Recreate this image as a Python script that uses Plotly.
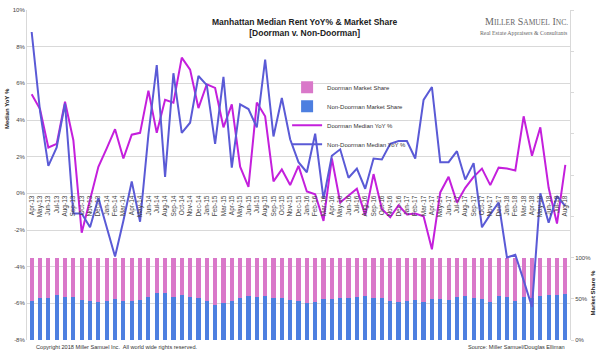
import pandas as pd
import plotly.graph_objects as go

months = list(pd.date_range("2013-04-01", periods=65, freq="MS").strftime("%b-%y"))

doorman_yoy = [5.4, 4.6, 2.5, 2.7, 5.0, 2.9, -2.15, -0.4, 1.45,
               2.45, 3.5, 1.9, 3.2, 3.3, 5.6, 3.3, 5.1, 4.95, 7.4, 6.75, 4.65,
               5.95, 5.75, 3.6, 4.85, 1.45, 0.35, 4.95, 4.2, 0.65, 1.3, 0.45, 1.5,
               0.1, -0.05, -1.5, 1.9, -0.5, -0.15, 0.25, -1.2, 1.05, -0.85, -1.3, -0.65,
               -1.15, -1.1, -1.25, -3.05, 0.05, 0.9, -0.5, 0.3, 0.9, 1.35, 0.45, 1.4,
               1.35, 1.25, 4.2, 2.05, 3.6, 0.3, -1.65, 1.55]

non_doorman_yoy = [8.8, 4.5, 1.5, 2.5, 4.9, -1.1, -1.1, -1.85, -0.25,
                   -1.85, -3.45, -1.5, 0.65, -1.55, 3.2, 7.0, 0.9, 6.55, 3.3, 3.85, 6.4,
                   5.9, 2.7, 6.35, 1.4, 4.85, 4.6, 3.6, 7.3, 3.1, 5.2, 2.95, 1.7,
                   1.15, 3.25, -0.3, 2.05, 2.4, 0.85, 1.35, 0.25, 1.9, 1.85, 2.7, 2.85,
                   2.85, 1.9, 5.1, 5.8, 1.7, 1.7, 2.3, 0.75, 1.65, -1.85, -1.15, -0.5,
                   -3.5, -3.35, -4.75, -6.2, 0.0, -1.6, -0.15, -0.7]

non_doorman_share = [47.8, 51, 51, 54.6, 51.8, 51.8, 48.6, 47.8, 46.6,
                     47.8, 49.8, 47.8, 47.8, 48.6, 52.6, 57, 57, 51.8, 55, 51.8, 50.6,
                     47.8, 43, 44.6, 47, 51, 53.8, 52.6, 53, 50.6, 50.6, 48.6, 47.8,
                     45, 45.8, 49.8, 49.8, 51.4, 51.4, 52.6, 53.8, 51.4, 50.6, 47.8, 46.6,
                     47.8, 49, 45.8, 49.8, 49.8, 49, 51.8, 53.4, 51, 49.8, 46.6, 53.4,
                     52.6, 47.8, 51.8, 51, 53.8, 54.6, 55, 55.8]
doorman_share = [round(100 - v, 1) for v in non_doorman_share]

yoy_ticks = [-8, -6, -4, -2, 0, 2, 4, 6, 8, 10]
yoy_labels = [f"{v}%" for v in yoy_ticks]
share_ticks = [0, 50, 100, 150, 200, 250, 300, 350, 400]
share_labels = ["0%", "50%", "100%", "", "", "", "", "", ""]

FONT = "Liberation Sans"
C_DS = "#d978c9"
C_NDS = "#4d7fe0"
C_DY = "#c41fdc"
C_NDY = "#5a5ad6"
GRID = "#d9d9d9"

fig = go.Figure()
fig.add_trace(go.Bar(x=months, y=non_doorman_share, name="Non-Doorman Market Share",
                     marker=dict(color=C_NDS, line=dict(width=0)), yaxis="y", legendrank=2))
fig.add_trace(go.Bar(x=months, y=doorman_share, name="Doorman Market Share",
                     marker=dict(color=C_DS, line=dict(width=0)), yaxis="y", legendrank=1))
fig.add_trace(go.Scatter(x=months, y=doorman_yoy, name="Doorman Median YoY %", mode="lines",
                         line=dict(color=C_DY, width=2), yaxis="y2", legendrank=3))
fig.add_trace(go.Scatter(x=months, y=non_doorman_yoy, name="Non-Doorman Median YoY %", mode="lines",
                         line=dict(color=C_NDY, width=2), yaxis="y2", legendrank=4))

fig.update_layout(
    width=600, height=350,
    margin=dict(l=27, r=30, t=7, b=10),
    paper_bgcolor="white", plot_bgcolor="white",
    font=dict(family=FONT, size=6, color="#444"),
    barmode="stack", bargap=0.5,
    xaxis=dict(type="category", range=[-0.56, 64.56], anchor="free", position=0.4444,
               tickangle=-90, tickfont=dict(size=6.5, color="#444"), showgrid=False,
               showline=False, ticks="", zeroline=False),
    yaxis=dict(side="right", range=[0, 400], tickvals=share_ticks, ticktext=share_labels,
               showgrid=False, zeroline=False, showline=True, linecolor=GRID,
               ticks="outside", ticklen=3, tickcolor=GRID, tickfont=dict(size=6, color="#444")),
    yaxis2=dict(overlaying="y", side="left", range=[-8, 10], tickvals=yoy_ticks, ticktext=yoy_labels,
                showgrid=True, gridcolor=GRID, gridwidth=1, zeroline=False,
                showline=True, linecolor=GRID, ticks="", tickfont=dict(size=6, color="#444")),
    legend=dict(x=0.479, y=0.81, xanchor="left", yanchor="top", bgcolor="rgba(0,0,0,0)",
                font=dict(size=6, color="#333"), itemwidth=30, traceorder="normal"),
    showlegend=True,
)

ann = [
    dict(text="<b>Manhattan Median Rent YoY% &amp; Market Share<br>[Doorman v. Non-Doorman]</b>",
         x=0.512, y=0.985, xref="paper", yref="paper", xanchor="center", yanchor="top",
         showarrow=False, font=dict(size=8.5, color="#222", family=FONT)),
    dict(text="M<span style='font-size:7.5px'>ILLER</span> S<span style='font-size:7.5px'>AMUEL</span> I<span style='font-size:7.5px'>NC.</span>",
         x=1.0, y=0.988, xref="paper", yref="paper", xanchor="right", yanchor="top",
         showarrow=False, font=dict(size=10, color="#666", family="Liberation Serif")),
    dict(text="Real Estate Appraisers &amp; Consultants",
         x=1.0, y=0.945, xref="paper", yref="paper", xanchor="right", yanchor="top",
         showarrow=False, font=dict(size=5.8, color="#666", family="Liberation Serif")),
    dict(text="<b>Median YoY %</b>", x=7, y=107, showarrow=False,
         textangle=-90, font=dict(size=6, color="#222", family=FONT)),
    dict(text="<b>Market Share %</b>", x=593, y=293, showarrow=False,
         textangle=-90, font=dict(size=6, color="#222", family=FONT)),
    dict(text="Copyright 2018 Miller Samuel Inc.  All world wide rights reserved.",
         x=0.012, y=-0.005, xref="paper", yref="paper", xanchor="left", yanchor="top",
         showarrow=False, font=dict(size=5.6, color="#333", family=FONT)),
    dict(text="Source: Miller Samuel/Douglas Elliman",
         x=0.9945, y=-0.005, xref="paper", yref="paper", xanchor="right", yanchor="top",
         showarrow=False, font=dict(size=5.6, color="#333", family=FONT)),
]
# convert pixel-positioned axis titles to paper coordinates
pw, ph = 600 - 27 - 30, 350 - 7 - 10
for a in ann[3:5]:
    a["x"] = (a["x"] - 27) / pw
    a["y"] = (350 - 10 - a["y"]) / ph
    a["xref"] = "paper"; a["yref"] = "paper"
    a["xanchor"] = "center"; a["yanchor"] = "middle"
fig.update_layout(annotations=ann)

fig.write_html("out.html")
